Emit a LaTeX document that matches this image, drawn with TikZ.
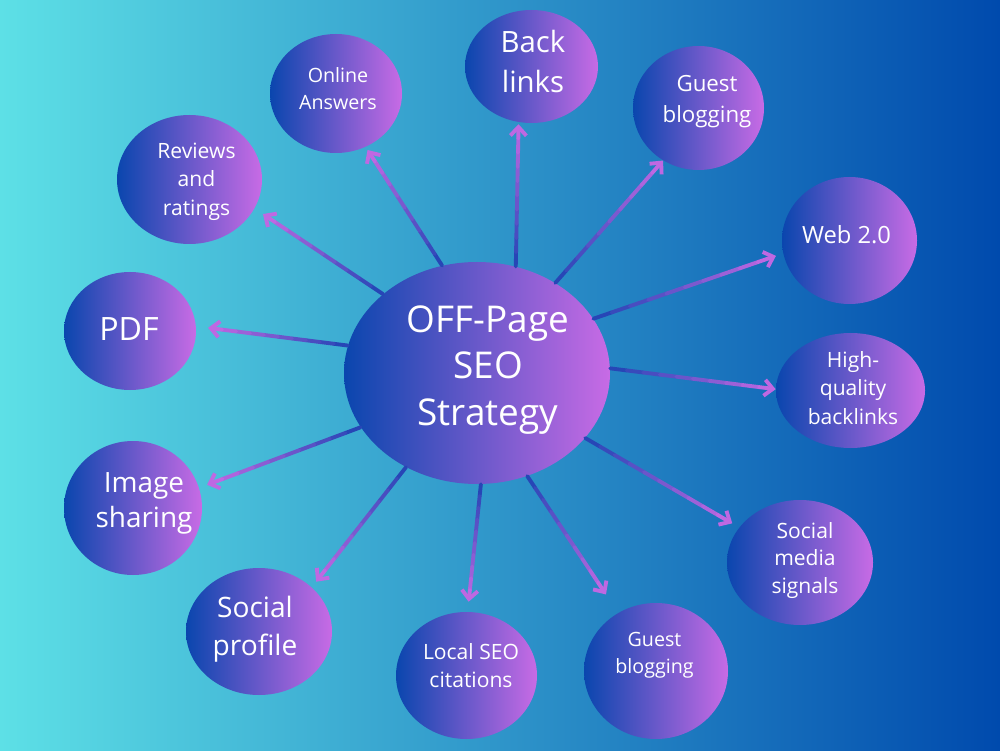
\documentclass[tikz,border=0pt]{standalone}
\usepackage{fontspec}
\setmainfont{Open Sans}
\usepackage{xcolor}
\usetikzlibrary{shapes.geometric,arrows.meta,calc}

\definecolor{bgleft}{HTML}{5DE0E6}
\definecolor{bgright}{HTML}{004AAD}
\definecolor{bubleft}{HTML}{0A46AE}
\definecolor{bubright}{HTML}{C86BE5}
\definecolor{spokestart}{HTML}{1E44B4}
\definecolor{spokeend}{HTML}{C86AE4}

% spoke with a blue-to-violet run: start anchor, end anchor, gap at the end
\newcommand{\spoke}[3]{%
  \coordinate (s) at (#1);
  \coordinate (e) at ($(#2)!#3!(#1)$);
  \foreach \k in {1,...,9}{%
    \pgfmathtruncatemacro{\p}{\k*10-5}
    \draw[spokeline, draw=spokeend!\p!spokestart] ($(s)!{(\k-1)/10}!(e)$) -- ($(s)!{\k/10}!(e)$);
  }
  \draw[spokeline, draw=spokeend!95!spokestart, -{Straight Barb[length=0.17cm, width=0.32cm]}] ($(s)!0.9!(e)$) -- (e);
}

\begin{document}
\begin{tikzpicture}[
    bubble/.style 2 args={ellipse, inner sep=0pt, minimum width=#1cm, minimum height=#2cm,
      left color=bubleft, right color=bubright},
    txt/.style 2 args={text=white, align=center, inner sep=0pt, font=\fontsize{#1}{#2}\selectfont},
    spokeline/.style={line width=2.2pt, line cap=round}
  ]
    % Background
    \fill[left color=bgleft, right color=bgright] (0,0) rectangle (20,15);
    \useasboundingbox (0,0) rectangle (20,15);

    % Bubbles
    \node[bubble={5.32}{4.44}] (hub) at (9.54,7.54) {};
    \node[bubble={2.66}{2.26}] (bl) at (10.63,13.67) {};
    \node[bubble={2.62}{2.48}] (gb1) at (13.97,12.84) {};
    \node[bubble={2.64}{2.38}] (oa) at (6.72,13.13) {};
    \node[bubble={2.90}{2.58}] (rr) at (3.79,11.41) {};
    \node[bubble={2.64}{2.36}] (pdf) at (2.60,8.38) {};
    \node[bubble={2.70}{2.54}] (web) at (16.99,10.19) {};
    \node[bubble={2.98}{2.30}] (hq) at (17.01,7.19) {};
    \node[bubble={2.76}{2.68}] (img) at (2.66,4.84) {};
    \node[bubble={2.92}{2.54}] (sp) at (5.18,2.37) {};
    \node[bubble={2.82}{2.54}] (loc) at (9.33,1.49) {};
    \node[bubble={2.88}{2.72}] (gb2) at (13.12,1.58) {};
    \node[bubble={2.92}{2.50}] (sm) at (16.00,3.75) {};

    % Labels
    \node[txt={21}{26.7}] (hub-t) at (9.76,7.60) {OFF-Page\\SEO\\Strategy};
    \node[txt={16.7}{22.2}] (bl-t) at (10.66,13.77) {Back\\links};
    \node[txt={12.7}{17.6}] (gb1-t) at (14.14,12.96) {Guest\\blogging};
    \node[txt={11.2}{15.4}] (oa-t) at (6.76,13.22) {Online\\Answers};
    \node[txt={12}{16.2}] (rr-t) at (3.93,11.37) {Reviews\\and\\ratings};
    \node[txt={18.3}{22}] (pdf-t) at (2.58,8.41) {PDF};
    \node[txt={13.5}{16}] (web-t) at (16.93,10.31) {Web 2.0};
    \node[txt={12}{16}] (hq-t) at (17.06,7.24) {High-\\quality\\backlinks};
    \node[txt={15.9}{19.9}] (img-t) at (2.88,4.94) {Image\\sharing};
    \node[txt={16}{21.6}] (sp-t) at (5.10,2.41) {Social\\profile};
    \node[txt={12}{16}] (loc-t) at (9.42,1.68) {Local SEO\\citations};
    \node[txt={11.2}{15.4}] (gb2-t) at (13.09,1.90) {Guest\\blogging};
    \node[txt={12}{15.6}] (sm-t) at (16.10,3.79) {Social\\media\\signals};

    % Spokes
    \spoke{hub.70}{bl.257}{0.04cm}
    \spoke{hub.49}{gb1.236}{0cm}
    \spoke{hub.108}{oa.299}{0.07cm}
    \spoke{hub.140}{rr.336}{0.2cm}
    \spoke{hub.168}{pdf.4}{0.24cm}
    \spoke{hub.25}{web.191}{0.15cm}
    \spoke{hub.2}{hq.179}{0cm}
    \spoke{hub.205}{img.17}{0.17cm}
    \spoke{hub.233}{sp.40}{0.14cm}
    \spoke{hub.272}{loc.89}{0.2cm}
    \spoke{hub.296}{gb2.123}{0.44cm}
    \spoke{hub.329}{sm.150}{0.16cm}
\end{tikzpicture}
\end{document}
